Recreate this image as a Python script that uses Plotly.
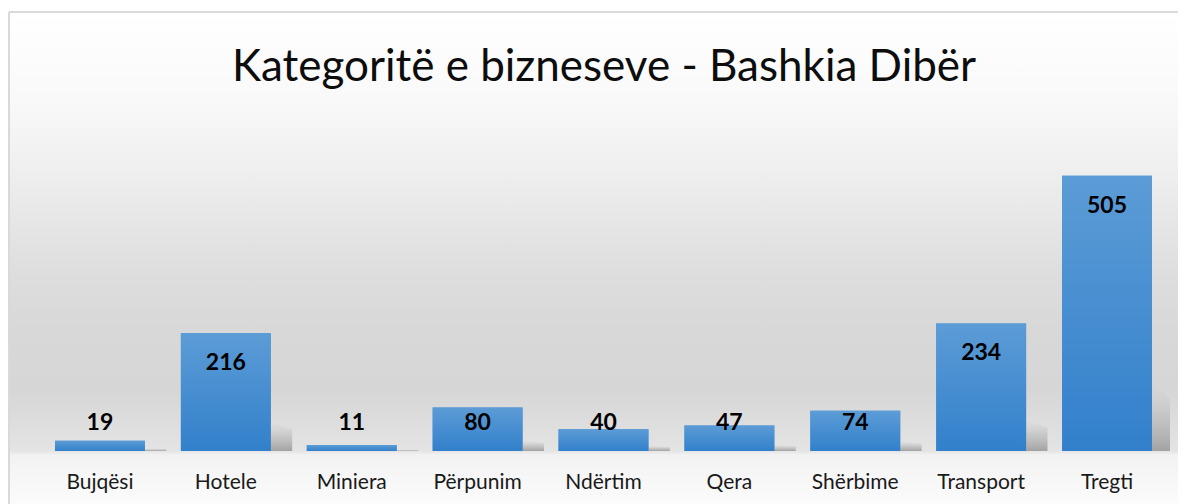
import plotly.graph_objects as go

# data
categories = ["Bujqësi", "Hotele", "Miniera", "Përpunim", "Ndërtim",
              "Qera", "Shërbime", "Transport", "Tregti"]
counts = [19, 216, 11, 80, 40, 47, 74, 234, 505]
title_text = "Kategoritë e bizneseve - Bashkia Dibër"

W, H = 1186, 504
OFF = 8  # page body margin shifts the figure by 8px
FONT = "Lato"
BAR_W = 0.714

# vertical background gradient (reference pixel y, colour)
bg_stops = [(12, "#ffffff"), (100, "#f9f9f9"), (170, "#efefef"), (270, "#dedede"),
            (330, "#d8d8d8"), (390, "#d6d6d6"), (430, "#dfdfdf"), (451, "#e4e4e4"),
            (455, "#f2f2f2"), (512, "#fdfdfd")]
top, bot = bg_stops[0][0] - OFF, bg_stops[-1][0] - OFF
bg_scale = [[(bot - (y - OFF)) / (bot - top), c] for y, c in reversed(bg_stops)]

xs = list(range(len(categories)))
# label positions: inside end of bar, but never below a minimum height
label_y = [max(v - 57, 50) for v in counts]

fig = go.Figure()

# background panel on a full-size hidden subplot
fig.add_trace(go.Scatter(
    x=[1, W + 10, W + 10, 1, 1], y=[top, top, H + 10, H + 10, top],
    mode="lines", fill="toself", line=dict(color="#d9d9d9", width=2),
    fillgradient=dict(type="vertical", colorscale=bg_scale, start=bot, stop=top),
    xaxis="x", yaxis="y", hoverinfo="skip",
))

# soft perspective shadows behind the right foot of each bar
for i, v in zip(xs, counts):
    xr = i + BAR_W / 2
    h = 0.26 * v
    fig.add_trace(go.Scatter(
        x=[xr - 0.05, xr + 0.17, xr + 0.17, xr - 0.05, xr - 0.05],
        y=[0, 0, 0.7 * h, h, 0],
        mode="lines", fill="toself", line=dict(width=0, color="rgba(0,0,0,0)"),
        fillgradient=dict(type="vertical", start=0, stop=max(h, 1),
                          colorscale=[[0, "rgba(140,140,140,0.75)"],
                                      [0.5, "rgba(170,170,170,0.45)"],
                                      [1, "rgba(210,210,210,0)"]]),
        xaxis="x2", yaxis="y2", hoverinfo="skip",
    ))

fig.add_trace(go.Bar(
    x=xs, y=counts, customdata=categories,
    marker=dict(color="#4a8fd5", line_width=0),
    width=BAR_W, xaxis="x2", yaxis="y2",
    hovertemplate="%{customdata}: %{y}<extra></extra>",
))

# vertical sheen on the bars (light top, darker foot)
for i, v in zip(xs, counts):
    fig.add_trace(go.Scatter(
        x=[i - BAR_W / 2, i + BAR_W / 2, i + BAR_W / 2, i - BAR_W / 2, i - BAR_W / 2],
        y=[0, 0, v, v, 0],
        mode="lines", fill="toself", line=dict(width=0, color="rgba(0,0,0,0)"),
        fillgradient=dict(type="vertical", start=0, stop=v,
                          colorscale=[[0, "#3280cb"], [1, "#5c9cd6"]]),
        xaxis="x2", yaxis="y2", hoverinfo="skip",
    ))

fig.add_trace(go.Scatter(
    x=xs, y=label_y, mode="text",
    text=[str(v) for v in counts],
    textfont=dict(family=FONT, size=23, color="#000000", weight="bold"),
    xaxis="x2", yaxis="y2", hoverinfo="skip",
))

fig.update_layout(
    width=W, height=H,
    margin=dict(l=0, r=0, t=0, b=0),
    paper_bgcolor="#ffffff", plot_bgcolor="rgba(0,0,0,0)",
    showlegend=False,
    title=dict(text=title_text, x=(604 - OFF) / W, xanchor="center",
               y=1 - (66 - OFF) / H, yanchor="middle",
               font=dict(family=FONT, size=44, color="#0d0d0d")),
    xaxis=dict(domain=[0, 1], range=[0, W], visible=False, fixedrange=True),
    yaxis=dict(domain=[0, 1], range=[H, 0], visible=False, fixedrange=True),
    xaxis2=dict(domain=[(37 - OFF) / W, (1170 - OFF) / W], anchor="y2",
                range=[-0.5, len(categories) - 0.5],
                tickvals=xs, ticktext=categories,
                showgrid=False, showline=False, zeroline=False,
                ticks="outside", ticklen=12, tickcolor="rgba(0,0,0,0)",
                tickfont=dict(family=FONT, size=21, color="#1a1a1a")),
    yaxis2=dict(domain=[(H - (451 - OFF)) / H, (H - (124 - OFF)) / H], anchor="x2",
                range=[0, 600], visible=False, showgrid=False, zeroline=False),
)

fig.write_html("out.html")
